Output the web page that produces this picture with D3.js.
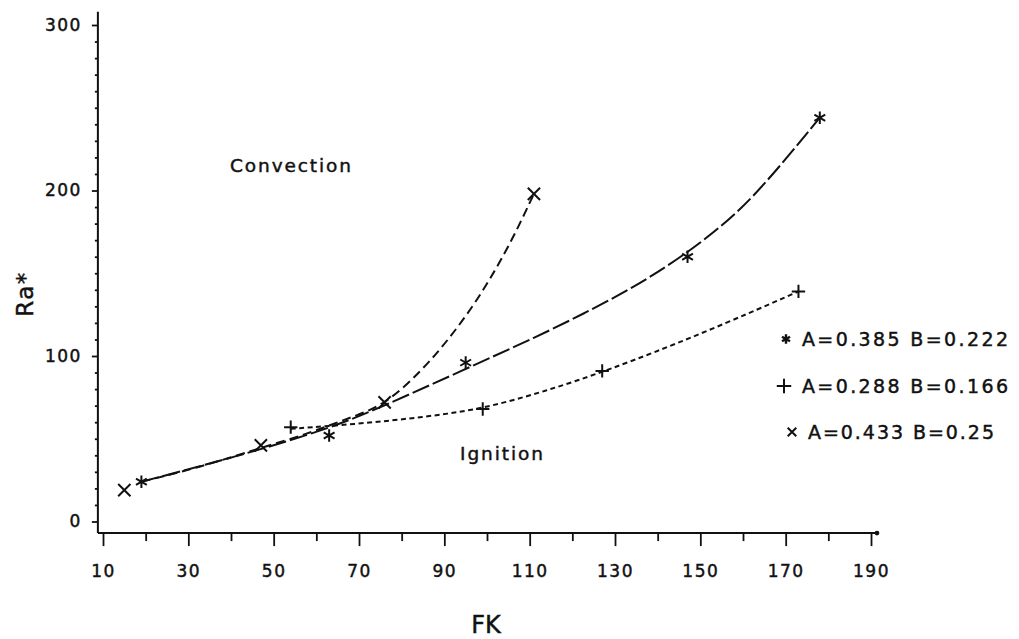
<!DOCTYPE html>
<html>
<head>
<meta charset="utf-8">
<script src="https://cdn.jsdelivr.net/npm/d3@7"></script>
<style>
  html, body { margin: 0; padding: 0; background: #fff; }
  svg { display: block; }
  text { font-family: "DejaVu Sans", "Liberation Sans", sans-serif; fill: #111; stroke: #111; stroke-width: 0.45; }
</style>
</head>
<body>
<svg id="chart" width="1019" height="639"></svg>
<script>
// Measured points for the three parameter sets (FK, Ra*)
const starPoints  = [[19, 24], [63, 52], [95, 96], [147, 160], [178, 244]];
const plusPoints  = [[54, 57], [99, 68], [127, 91], [173, 139]];
const timesPoints = [[15, 19], [47, 46], [76, 72], [111, 198]];

// Fitted curves (B-spline control points)
const starCurve  = [[19, 24], [41, 39], [63, 56], [76, 70], [94, 91], [112, 112], [123, 126],
                    [134, 141], [144, 157], [155, 178], [164, 200], [178, 244]];
const plusCurve  = [[54, 56], [70, 59], [85, 63], [99, 68], [114, 79], [128, 91], [150, 113], [173, 139]];
const timesCurve = [[19, 24], [33, 33], [47, 44.5], [58, 53], [67, 62], [76, 70], [85, 92], [91, 110],
                    [97, 131], [102, 152], [106, 171], [109, 187], [111, 198]];

// Legend entries
const legendLabels = ["A=0.385 B=0.222", "A=0.288 B=0.166", "A=0.433 B=0.25"];

// Axis ticks
const xMajorTicks = [10, 30, 50, 70, 90, 110, 130, 150, 170, 190];
const xMinorTicks = [20, 40, 60, 80, 100, 120, 140, 160, 180];
const yMajorTicks = [0, 100, 200, 300];
const yMinorTicks = [10, 20, 30, 40, 50, 60, 70, 80, 90, 110, 120, 130, 140, 150, 160, 170, 180, 190,
                     210, 220, 230, 240, 250, 260, 270, 280, 290];

const svg = d3.select("#chart");

const x = d3.scaleLinear().domain([10, 190]).range([103, 871]);
const y = d3.scaleLinear().domain([0, 300]).range([521.5, 25]);

// axis frame: vertical axis starts a little left of 10, horizontal axis sits below 0
const xStart = 8.8, xEnd = 191.4, yBottom = -7, yTop = 308;
const axisG = svg.append("g").attr("stroke", "#111").attr("stroke-width", 2).attr("fill", "none");
axisG.append("line")
  .attr("x1", x(xStart)).attr("x2", x(xStart))
  .attr("y1", y(yTop)).attr("y2", y(yBottom));
axisG.append("line")
  .attr("x1", x(xStart)).attr("x2", x(xEnd))
  .attr("y1", y(yBottom)).attr("y2", y(yBottom));
svg.append("circle").attr("cx", x(xEnd)).attr("cy", y(yBottom)).attr("r", 2.4).attr("fill", "#111");

// x axis: long ticks with labels, short ticks between
const xAxisMajor = d3.axisBottom(x).tickValues(xMajorTicks).tickSize(13).tickPadding(19)
  .tickFormat(d3.format("d"));
const xAxisMinor = d3.axisBottom(x).tickValues(xMinorTicks).tickSize(8).tickFormat("");
const gxMaj = svg.append("g").attr("transform", `translate(0,${y(yBottom)})`).call(xAxisMajor);
const gxMin = svg.append("g").attr("transform", `translate(0,${y(yBottom)})`).call(xAxisMinor);
[gxMaj, gxMin].forEach(g => {
  g.select(".domain").remove();
  g.selectAll(".tick line").attr("stroke", "#111").attr("stroke-width", 1.8);
});
gxMaj.selectAll(".tick text")
  .attr("fill", "#111").attr("font-size", 17).attr("letter-spacing", 1.5)
  .style("font-family", "'DejaVu Sans', sans-serif");

// y axis
const yAxisMajor = d3.axisLeft(y).tickValues(yMajorTicks).tickSize(6).tickPadding(10)
  .tickFormat(d3.format("d"));
const yAxisMinor = d3.axisLeft(y).tickValues(yMinorTicks).tickSize(3).tickFormat("");
const gyMaj = svg.append("g").attr("transform", `translate(${x(xStart)},0)`).call(yAxisMajor);
const gyMin = svg.append("g").attr("transform", `translate(${x(xStart)},0)`).call(yAxisMinor);
[gyMaj, gyMin].forEach(g => {
  g.select(".domain").remove();
  g.selectAll(".tick line").attr("stroke", "#111").attr("stroke-width", 1.8);
});
gyMaj.selectAll(".tick text")
  .attr("fill", "#111").attr("font-size", 17).attr("letter-spacing", 1.5)
  .style("font-family", "'DejaVu Sans', sans-serif");

// axis titles
svg.append("text")
  .attr("transform", `translate(33,${294}) rotate(-90)`)
  .attr("text-anchor", "middle")
  .attr("font-size", 23).attr("letter-spacing", 1.5)
  .text("Ra*");
svg.append("text")
  .attr("x", 486).attr("y", 633)
  .attr("text-anchor", "middle")
  .attr("font-size", 24)
  .text("FK");

// region labels
svg.append("text").attr("x", 230).attr("y", 172)
  .attr("font-size", 18.5).attr("textLength", 121).attr("lengthAdjust", "spacing")
  .text("Convection");
svg.append("text").attr("x", 460).attr("y", 460)
  .attr("font-size", 18.5).attr("textLength", 83).attr("lengthAdjust", "spacing")
  .text("Ignition");

// curves (B-spline keeps the fitted lines smooth)
const line = d3.line().x(d => x(d[0])).y(d => y(d[1])).curve(d3.curveBasis);
const curveG = svg.append("g").attr("fill", "none").attr("stroke", "#111").attr("stroke-width", 2);
curveG.append("path").datum(starCurve).attr("d", line).attr("stroke-dasharray", "18,4");
curveG.append("path").datum(timesCurve).attr("d", line).attr("stroke-dasharray", "9,5");
curveG.append("path").datum(plusCurve).attr("d", line).attr("stroke-dasharray", "5,3.5");

// markers
const markG = svg.append("g").attr("fill", "none").attr("stroke", "#111").attr("stroke-width", 2);
const sym = (type, size) => d3.symbol().type(type).size(size);
markG.selectAll(".star").data(starPoints).join("path")
  .attr("transform", d => `translate(${x(d[0])},${y(d[1])})`)
  .attr("d", sym(d3.symbolAsterisk, 110));
markG.selectAll(".plus").data(plusPoints).join("path")
  .attr("transform", d => `translate(${x(d[0])},${y(d[1])})`)
  .attr("d", sym(d3.symbolPlus, 60));
markG.selectAll(".times").data(timesPoints).join("path")
  .attr("transform", d => `translate(${x(d[0])},${y(d[1])})`)
  .attr("d", sym(d3.symbolTimes, 100));

// legend
const legendRows = [
  { type: d3.symbolAsterisk, size: 60, mx: 786, tx: 802, y: 339, w: 206, sw: 2.4 },
  { type: d3.symbolPlus, size: 70, mx: 784, tx: 802, y: 386, w: 206, sw: 2 },
  { type: d3.symbolTimes, size: 50, mx: 792, tx: 808, y: 432, w: 186, sw: 2 }
];
const legG = svg.append("g");
legendRows.forEach((r, i) => {
  legG.append("path")
    .attr("transform", `translate(${r.mx},${r.y})`)
    .attr("d", sym(r.type, r.size))
    .attr("fill", "none").attr("stroke", "#111").attr("stroke-width", r.sw);
  legG.append("text")
    .attr("x", r.tx).attr("y", r.y + 7)
    .attr("font-size", 19)
    .attr("textLength", r.w).attr("lengthAdjust", "spacing")
    .text(legendLabels[i]);
});
</script>
</body>
</html>
